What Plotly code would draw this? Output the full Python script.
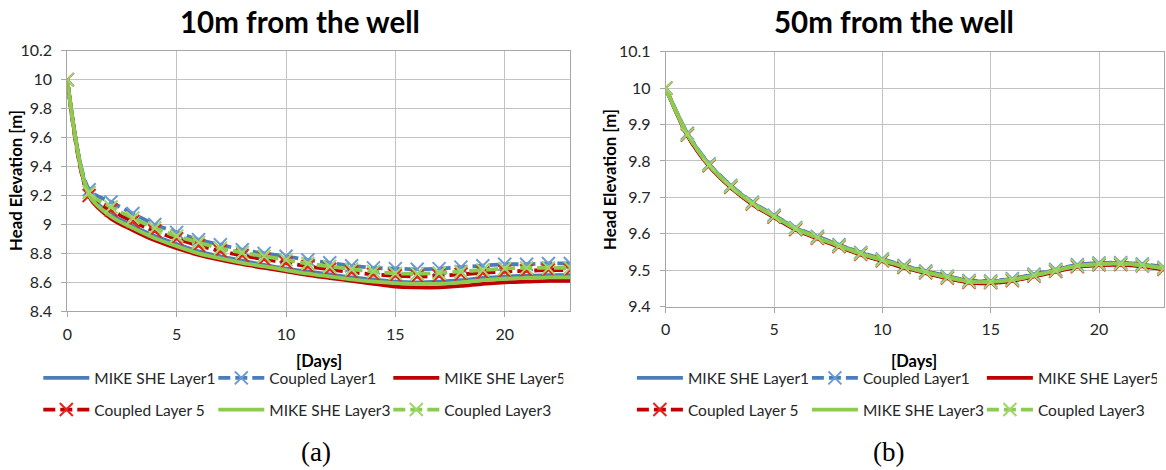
import plotly.graph_objects as go

W, H = 1166, 470

days = list(range(0, 24))

# ---- 10 m from the well ----
mike_l1_10 = [10.00, 9.21, 9.07, 8.99, 8.92, 8.865, 8.815, 8.78, 8.75, 8.72, 8.695, 8.675, 8.655,
              8.635, 8.62, 8.605, 8.60, 8.605, 8.615, 8.63, 8.64, 8.645, 8.65, 8.65]
coup_l1_10 = [10.00, 9.24, 9.155, 9.075, 9.00, 8.945, 8.895, 8.86, 8.825, 8.80, 8.78, 8.755, 8.735,
              8.715, 8.70, 8.695, 8.69, 8.695, 8.705, 8.715, 8.725, 8.725, 8.73, 8.73]
mike_l5_10 = [10.00, 9.19, 9.04, 8.96, 8.89, 8.835, 8.79, 8.755, 8.725, 8.70, 8.675, 8.65, 8.63,
              8.61, 8.59, 8.57, 8.565, 8.565, 8.575, 8.59, 8.60, 8.605, 8.61, 8.61]
coup_l5_10 = [10.00, 9.20, 9.10, 9.02, 8.955, 8.90, 8.855, 8.815, 8.785, 8.76, 8.735, 8.71, 8.69,
              8.67, 8.655, 8.645, 8.64, 8.645, 8.655, 8.665, 8.675, 8.68, 8.685, 8.685]
mike_l3_10 = [10.00, 9.20, 9.055, 8.975, 8.905, 8.85, 8.80, 8.765, 8.735, 8.71, 8.685, 8.66, 8.64,
              8.62, 8.605, 8.595, 8.59, 8.59, 8.60, 8.615, 8.625, 8.63, 8.635, 8.635]
coup_l3_10 = [10.00, 9.22, 9.12, 9.045, 8.975, 8.92, 8.875, 8.835, 8.805, 8.78, 8.755, 8.73, 8.71,
              8.69, 8.675, 8.662, 8.66, 8.665, 8.675, 8.685, 8.695, 8.70, 8.70, 8.70]

# ---- 50 m from the well ----
mike_l1_50 = [10.00, 9.875, 9.791, 9.732, 9.686, 9.650, 9.616, 9.592, 9.569, 9.548, 9.530, 9.512,
              9.497, 9.483, 9.471, 9.470, 9.476, 9.488, 9.501, 9.514, 9.519, 9.520, 9.516, 9.507]
coup_l1_50 = [10.00, 9.876, 9.792, 9.733, 9.687, 9.651, 9.617, 9.593, 9.570, 9.549, 9.531, 9.513,
              9.498, 9.484, 9.472, 9.471, 9.477, 9.489, 9.502, 9.515, 9.520, 9.521, 9.517, 9.508]
mike_l5_50 = [10.00, 9.870, 9.786, 9.727, 9.681, 9.645, 9.611, 9.587, 9.564, 9.543, 9.525, 9.507,
              9.492, 9.478, 9.466, 9.465, 9.471, 9.483, 9.496, 9.509, 9.514, 9.515, 9.511, 9.502]
coup_l5_50 = [10.00, 9.871, 9.787, 9.728, 9.682, 9.646, 9.612, 9.588, 9.565, 9.544, 9.526, 9.508,
              9.493, 9.479, 9.467, 9.466, 9.472, 9.484, 9.497, 9.510, 9.515, 9.516, 9.512, 9.503]
mike_l3_50 = [10.00, 9.873, 9.789, 9.730, 9.684, 9.648, 9.614, 9.590, 9.567, 9.546, 9.528, 9.510,
              9.495, 9.481, 9.469, 9.468, 9.474, 9.486, 9.499, 9.512, 9.517, 9.518, 9.514, 9.505]
coup_l3_50 = [10.00, 9.873, 9.789, 9.730, 9.684, 9.648, 9.614, 9.590, 9.567, 9.546, 9.528, 9.510,
              9.495, 9.481, 9.469, 9.468, 9.474, 9.486, 9.499, 9.512, 9.517, 9.518, 9.514, 9.505]

series_names = ["MIKE SHE Layer1", "Coupled Layer1", "MIKE SHE Layer5",
                "Coupled Layer 5", "MIKE SHE Layer3", "Coupled Layer3"]

x_ticks = [0, 5, 10, 15, 20]
y_ticks_10 = [8.4, 8.6, 8.8, 9.0, 9.2, 9.4, 9.6, 9.8, 10.0, 10.2]
y_text_10 = ["8.4", "8.6", "8.8", "9", "9.2", "9.4", "9.6", "9.8", "10", "10.2"]
y_ticks_50 = [9.4, 9.5, 9.6, 9.7, 9.8, 9.9, 10.0, 10.1]
y_text_50 = ["9.4", "9.5", "9.6", "9.7", "9.8", "9.9", "10", "10.1"]

titles = ["10m from the well", "50m from the well"]
panel_labels = ["(a)", "(b)"]

BLUE = "#4A7EBB"
BLUE_M = "#6C9BD2"
RED = "#C00000"
RED_M = "#E8221E"
GREEN = "#8CCB4F"
GREEN_M = "#9ED668"

FONT = "Lato"
TXT = "#262626"

styles = [
    dict(color=BLUE, dash="solid", marker=False, mc=BLUE),
    dict(color=BLUE, dash="12px,5px", marker=True, mc=BLUE_M),
    dict(color=RED, dash="solid", marker=False, mc=RED),
    dict(color=RED, dash="12px,5px", marker=True, mc=RED_M),
    dict(color=GREEN, dash="solid", marker=False, mc=GREEN),
    dict(color=GREEN, dash="12px,5px", marker=True, mc=GREEN_M),
]

fig = go.Figure()

panels = [
    ([mike_l1_10, coup_l1_10, mike_l5_10, coup_l5_10, mike_l3_10, coup_l3_10], "x", "y", ("legend", "legend2")),
    ([mike_l1_50, coup_l1_50, mike_l5_50, coup_l5_50, mike_l3_50, coup_l3_50], "x2", "y2", ("legend3", "legend4")),
]

for data, xa, ya, legs in panels:
    for i, (vals, name, st) in enumerate(zip(data, series_names, styles)):
        fig.add_trace(go.Scatter(
            x=days, y=vals, name=name, xaxis=xa, yaxis=ya,
            mode="lines+markers" if st["marker"] else "lines",
            line=dict(color=st["color"], width=3.8, dash=st["dash"], shape="spline", smoothing=0.8),
            marker=dict(symbol="x-thin", size=13, color=st["mc"],
                        line=dict(width=2, color=st["mc"])) if st["marker"] else None,
            legend=legs[0] if i < 3 else legs[1],
            showlegend=True,
        ))

def px(x):
    return x / W

def py(y):
    return 1 - y / H

GRID = "#C3C3C3"
AXL = "#A6A6A6"

axis_common = dict(showgrid=True, gridcolor=GRID, gridwidth=1, zeroline=False,
                   showline=True, linecolor=AXL, linewidth=1, mirror=True,
                   ticks="outside", ticklen=5, tickcolor=AXL,
                   tickfont=dict(family=FONT, size=16, color=TXT))

fig.update_layout(
    width=W, height=H,
    margin=dict(l=0, r=0, t=0, b=0, autoexpand=False),
    paper_bgcolor="white", plot_bgcolor="white",
    showlegend=True,
    xaxis=dict(domain=[px(67.3), px(570.3)], range=[0, 23], tickvals=x_ticks,
               anchor="y", ticklabelstandoff=3, **axis_common),
    yaxis=dict(domain=[py(311.3), py(50.7)], range=[8.4, 10.2], tickvals=y_ticks_10,
               ticktext=y_text_10, anchor="x", ticklabelstandoff=6, **axis_common),
    xaxis2=dict(domain=[px(665.7), px(1164)], range=[0, 23], tickvals=x_ticks,
                anchor="y2", ticklabelstandoff=3, **axis_common),
    yaxis2=dict(domain=[py(306.7), py(51.7)], range=[9.4, 10.1], tickvals=y_ticks_50,
                ticktext=y_text_50, anchor="x2", ticklabelstandoff=6, **axis_common),
)

leg_common = dict(orientation="h", xanchor="left", yanchor="middle",
                  itemwidth=46, entrywidth=114, entrywidthmode="pixels",
                  font=dict(family=FONT, size=15.5, color=TXT),
                  bgcolor="rgba(0,0,0,0)", borderwidth=0, tracegroupgap=0)

fig.update_layout(
    legend=dict(x=px(38.3), y=py(378.3), **leg_common),
    legend2=dict(x=px(38.3), y=py(410), **leg_common),
    legend3=dict(x=px(631.9), y=py(378.3), **leg_common),
    legend4=dict(x=px(631.9), y=py(410), **leg_common),
)

annots = []
for cx, t in zip([300, 893.5], titles):
    annots.append(dict(x=px(cx), y=py(22), xref="paper", yref="paper", text=t, showarrow=False,
                       xanchor="center", yanchor="middle",
                       font=dict(family=FONT, size=29.5, color="#000000", weight="bold")))
for cx, cy in [(16, 181), (609, 179)]:
    annots.append(dict(x=px(cx), y=py(cy), xref="paper", yref="paper", text="Head Elevation [m]",
                       textangle=-90, showarrow=False, xanchor="center", yanchor="middle",
                       font=dict(family=FONT, size=16.8, color="#000000", weight="bold")))
for cx in [318.5, 914]:
    annots.append(dict(x=px(cx), y=py(360.7), xref="paper", yref="paper", text="[Days]",
                       showarrow=False, xanchor="center", yanchor="middle",
                       font=dict(family=FONT, size=16.5, color="#000000", weight="bold")))
for cx, t in zip([316, 888], panel_labels):
    annots.append(dict(x=px(cx), y=py(451.7), xref="paper", yref="paper", text=t,
                       showarrow=False, xanchor="center", yanchor="middle",
                       font=dict(family="Liberation Serif", size=27, color="#000000")))
fig.update_layout(annotations=annots)

fig.write_html("out.html", config={"displayModeBar": False},
               post_script="document.body.style.margin='0px';document.body.style.padding='0px';document.body.style.overflow='hidden';")
